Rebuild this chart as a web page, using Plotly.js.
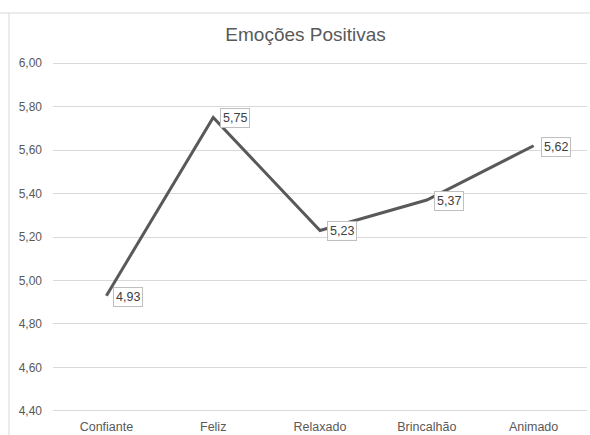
<!DOCTYPE html>
<html>
<head>
<meta charset="utf-8">
<script src="https://cdn.plot.ly/plotly-3.0.1.min.js"></script>
<style>html,body{margin:0;padding:0;background:#fff;}#chart{width:590px;height:435px;}</style>
</head>
<body>
<div id="chart"></div>
<script>
var categories = ["Confiante", "Feliz", "Relaxado", "Brincalhão", "Animado"];
var values = [4.93, 5.75, 5.23, 5.37, 5.62];
var labels = ["4,93", "5,75", "5,23", "5,37", "5,62"];
var tickVals = [4.4, 4.6, 4.8, 5.0, 5.2, 5.4, 5.6, 5.8, 6.0];
var tickText = ["4,40", "4,60", "4,80", "5,00", "5,20", "5,40", "5,60", "5,80", "6,00"];

var trace = {
  x: categories,
  y: values,
  type: "scatter",
  mode: "lines",
  line: {color: "#595959", width: 3},
  hoverinfo: "none"
};

var annotations = categories.map(function(c, i) {
  return {
    x: c, y: values[i], xref: "x", yref: "y",
    text: labels[i], showarrow: false,
    xanchor: "left", yanchor: "middle", xshift: 7, yshift: -1,
    font: {family: "Liberation Sans, Arial, sans-serif", size: 12.5, color: "#404040"},
    bordercolor: "#bfbfbf", borderwidth: 1, borderpad: 2, bgcolor: "#ffffff"
  };
});

var layout = {
  width: 590, height: 435,
  margin: {l: 53, r: 3, t: 61, b: 22},
  paper_bgcolor: "#ffffff", plot_bgcolor: "#ffffff",
  font: {family: "Liberation Sans, Arial, sans-serif", size: 12, color: "#595959"},
  title: {text: "Emoções Positivas", x: 0.518, xanchor: "center", y: 0.92, yanchor: "middle",
          font: {family: "Liberation Sans, Arial, sans-serif", size: 19, color: "#595959"}},
  showlegend: false,
  xaxis: {type: "category", range: [-0.5, 4.5], showgrid: false, zeroline: false, showline: false,
          ticks: "", ticklabelstandoff: 4, tickfont: {size: 12.5, color: "#595959"}},
  yaxis: {range: [4.39, 6.01], tickvals: tickVals, ticktext: tickText, showgrid: true,
          gridcolor: "#d9d9d9", gridwidth: 1, zeroline: false, showline: false, ticks: "",
          ticklabelstandoff: 10, tickfont: {size: 12, color: "#595959"}},
  annotations: annotations,
  shapes: [
    {type: "line", xref: "paper", yref: "paper", x0: -0.1, x1: 1.01, y0: 1.1364, y1: 1.1364,
     line: {color: "#d9d9d9", width: 1}},
    {type: "line", xref: "paper", yref: "paper", x0: -0.0824, x1: -0.0824, y0: 1.1364, y1: -0.07,
     line: {color: "#d9d9d9", width: 1}}
  ]
};

Plotly.newPlot("chart", [trace], layout, {displayModeBar: false, staticPlot: true});
</script>
</body>
</html>
